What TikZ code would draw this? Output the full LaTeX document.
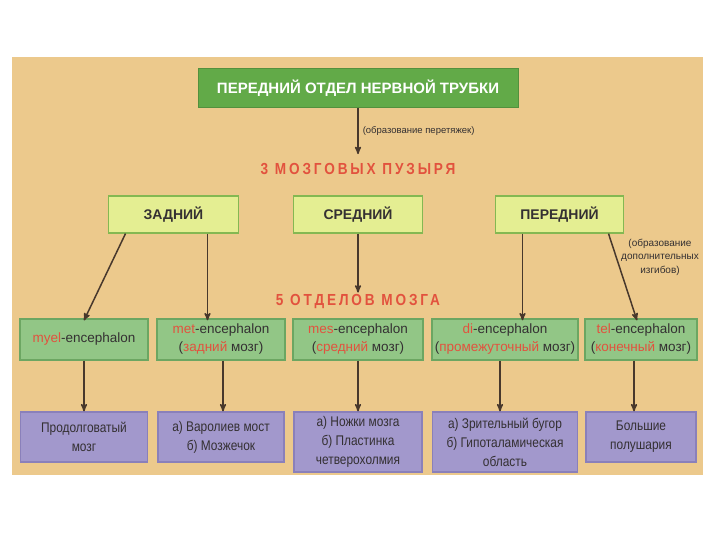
\documentclass[tikz,border=0pt]{standalone}
\usepackage{fontspec}
\setmainfont{Liberation Sans}
\newfontfamily\narrowsans{Liberation Sans}[FakeStretch=0.85]
\usetikzlibrary{shapes,arrows}
\definecolor{panelbg}{RGB}{236,201,140}
\definecolor{tubegreen}{RGB}{98,170,72}
\definecolor{bubbleyellow}{RGB}{228,238,146}
\definecolor{bubbleedge}{RGB}{132,184,82}
\definecolor{partgreen}{RGB}{146,198,134}
\definecolor{partedge}{RGB}{108,166,98}
\definecolor{regionlilac}{RGB}{162,152,204}
\definecolor{regionedge}{RGB}{138,128,186}
\definecolor{headred}{RGB}{226,82,62}
\definecolor{inkbrown}{RGB}{72,56,44}
\definecolor{textdark}{RGB}{52,48,50}

\begin{document}
\begin{tikzpicture}[x=1pt, y=-1pt, every text node part/.style={align=center},
                    text=textdark, >=stealth']
\tikzset{tube/.style={rectangle, fill=tubegreen, draw=tubegreen!85!black,
                      minimum width=320pt, minimum height=39pt, inner sep=0pt,
                      text=white, font=\fontsize{15}{18}\selectfont\bfseries},
         bubble/.style={rectangle, fill=bubbleyellow, draw=bubbleedge, line width=1.2pt,
                        minimum width=130pt, minimum height=37pt, inner sep=0pt,
                        font=\fontsize{14}{16}\selectfont\bfseries},
         part/.style={rectangle, fill=partgreen, draw=partedge, line width=1.2pt,
                      minimum height=41pt, inner sep=0pt,
                      font=\fontsize{13.5}{18}\selectfont},
         region/.style={rectangle, fill=regionlilac, draw=regionedge, line width=1.2pt,
                        inner sep=0pt, font=\narrowsans\fontsize{14}{19}\selectfont},
         heading/.style={text=headred, inner sep=2pt,
                         font=\narrowsans\fontsize{16}{18}\selectfont\bfseries\addfontfeature{LetterSpace=18}},
         remark/.style={inner sep=2pt, font=\fontsize{9.5}{13.5}\selectfont},
         arr/.style={->, draw=inkbrown, line width=1.5pt}}

% background
\fill[white] (0,0) rectangle (720,540);
\fill[panelbg] (12,57) rectangle (703,475);

\node(tube) [tube] at (358,88) {ПЕРЕДНИЙ ОТДЕЛ НЕРВНОЙ ТРУБКИ};

\node(head3) [heading, below of=tube, node distance=81pt] {3 МОЗГОВЫХ ПУЗЫРЯ};

% 3 bubbles
\node(sredniy) [bubble, below of=tube, node distance=126.5pt, minimum width=129pt] {СРЕДНИЙ};
\node(zadniy) [bubble, left of=sredniy, node distance=184.5pt] {ЗАДНИЙ};
\node(peredniy) [bubble, right of=sredniy, node distance=201.5pt, minimum width=128pt] {ПЕРЕДНИЙ};

\node(head5) [heading, below of=sredniy, node distance=87.5pt] {5 ОТДЕЛОВ МОЗГА};

% 5 parts
\node(mes) [part, below of=sredniy, node distance=125pt, minimum width=130pt]
  {{\color{headred}mes}-encephalon \\ ({\color{headred}средний} мозг)};
\node(met) [part, left of=mes, node distance=137pt, minimum width=128pt]
  {{\color{headred}met}-encephalon \\ ({\color{headred}задний} мозг)};
\node(myel) [part, left of=met, node distance=137pt, minimum width=128pt]
  {{\color{headred}myel}-encephalon};
\node(di) [part, right of=mes, node distance=147pt, minimum width=146pt]
  {{\color{headred}di}-encephalon \\ ({\color{headred}промежуточный} мозг)};
\node(tel) [part, right of=di, node distance=136pt, minimum width=112pt]
  {{\color{headred}tel}-encephalon \\ ({\color{headred}конечный} мозг)};

% regions
\node(prod) [region, below of=myel, node distance=97.5pt, minimum width=127pt, minimum height=50pt]
  {Продолговатый \\ мозг};
\node(varol) [region, below of=met, node distance=97.5pt, minimum width=126pt, minimum height=50pt]
  {а) Варолиев мост \\ б) Мозжечок};
\node(nozhki) [region, below of=mes, node distance=102.5pt, minimum width=128pt, minimum height=60pt]
  {а) Ножки мозга \\ б) Пластинка \\ четверохолмия};
\node(zritel) [region, below of=di, node distance=102.5pt, minimum width=145pt, minimum height=60pt]
  {а) Зрительный бугор \\ б) Гипоталамическая \\ область};
\node(bolsh) [region, below of=tel, node distance=97.5pt, minimum width=110pt, minimum height=50pt]
  {Большие \\ полушария};

% connectors
\draw[arr] (tube) -- ([yshift=7pt]head3.north)
  node[remark, midway, right, xshift=2pt] {(образование перетяжек)};
\draw[arr] ([xshift=-48pt]zadniy.south) -- ([yshift=-2pt]myel.north);
\draw[arr] ([xshift=34pt]zadniy.south) -- ([xshift=34pt, yshift=-2pt]zadniy.south |- met.north);
\draw[arr] (sredniy) -- (head5);
\draw[arr] ([xshift=-37pt]peredniy.south) -- ([xshift=-37pt, yshift=-2pt]peredniy.south |- di.north);
\draw[arr] ([xshift=49pt]peredniy.south) -- ([xshift=-4pt, yshift=-2pt]tel.north);
\node(bends) [remark, font=\fontsize{10}{13.5}\selectfont] at (660,257)
  {(образование \\ дополнительных \\ изгибов)};

\draw[arr] (myel) -- (prod);
\draw[arr] ([xshift=2pt]met.south) -- ([xshift=2pt]met.south |- varol.north);
\draw[arr] (mes) -- (nozhki);
\draw[arr] ([xshift=-5pt]di.south) -- ([xshift=-5pt]di.south |- zritel.north);
\draw[arr] ([xshift=-7pt]tel.south) -- ([xshift=-7pt]tel.south |- bolsh.north);

\useasboundingbox (0,0) rectangle (720,540);
\end{tikzpicture}
\end{document}
